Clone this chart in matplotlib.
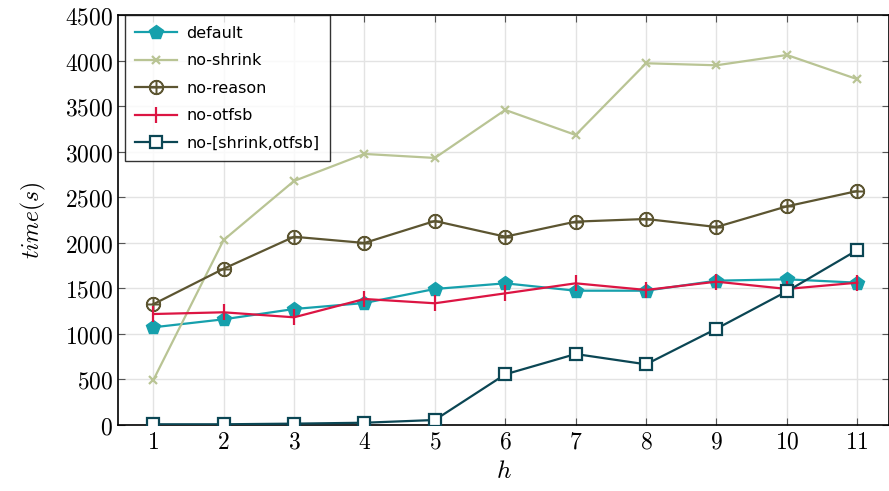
import matplotlib
matplotlib.use("Agg")
import matplotlib.pyplot as plt

plt.rcParams['mathtext.fontset'] = 'cm'

h = [1, 2, 3, 4, 5, 6, 7, 8, 9, 10, 11]
default = [1072, 1160, 1273, 1339, 1493, 1555, 1474, 1474, 1584, 1599, 1562]
no_shrink = [490, 2030, 2678, 2975, 2931, 3458, 3183, 3970, 3948, 4061, 3795]
no_reason = [1325, 1715, 2066, 1998, 2239, 2067, 2232, 2261, 2173, 2400, 2568]
no_otfsb = [1218, 1237, 1182, 1383, 1336, 1445, 1555, 1482, 1573, 1493, 1562]
no_shrink_otfsb = [8, 8, 15, 25, 55, 556, 779, 666, 1057, 1467, 1920]

fig = plt.figure(figsize=(8.89, 4.91), dpi=100)
ax = fig.add_axes([0.1327, 0.1344, 0.8673, 0.8351])

ax.plot(h, default, color='#16a0ac', lw=1.6, marker='p', ms=10, label='default', zorder=3)
ax.plot(h, no_shrink, color='#b9c494', lw=1.6, marker='x', ms=6, mew=1.6, label='no-shrink', zorder=3)
ax.plot(h, no_reason, color='#5c5531', lw=1.6, marker=r'$\oplus$', ms=10, label='no-reason', zorder=3)
ax.plot(h, no_otfsb, color='#dc1543', lw=1.6, marker='|', ms=12, mew=1.6, label='no-otfsb', zorder=3)
ax.plot(h, no_shrink_otfsb, color='#0b4654', lw=1.6, marker='s', ms=9, mfc='white', mew=1.6,
        label='no-[shrink,otfsb]', zorder=3)

ax.set_xlim(0.5, 11.45)
ax.set_ylim(0, 4500)
ax.set_xticks(h)
ax.set_xticklabels([f'${v}$' for v in h])
yt = list(range(0, 4501, 500))
ax.set_yticks(yt)
ax.set_yticklabels([f'${v}$' for v in yt])
ax.tick_params(direction='in', length=5, labelsize=17, top=True, right=True, color='#555555')
ax.grid(True, color='#e3e3e3', lw=1)
ax.set_axisbelow(True)
for s in ax.spines.values():
    s.set_linewidth(1.2)

ax.set_xlabel('$h$', fontsize=18, labelpad=4)
ax.set_ylabel('$time(s)$', fontsize=17, labelpad=12)

leg = ax.legend(loc='upper left', bbox_to_anchor=(0.009, 0.999), fontsize=11.5, frameon=True,
                fancybox=False, edgecolor='black', handlelength=2.6, handletextpad=0.6,
                borderaxespad=0.0, labelspacing=0.78, borderpad=0.65)
leg.get_frame().set_linewidth(1.0)

fig.savefig('out.png', dpi=100)
